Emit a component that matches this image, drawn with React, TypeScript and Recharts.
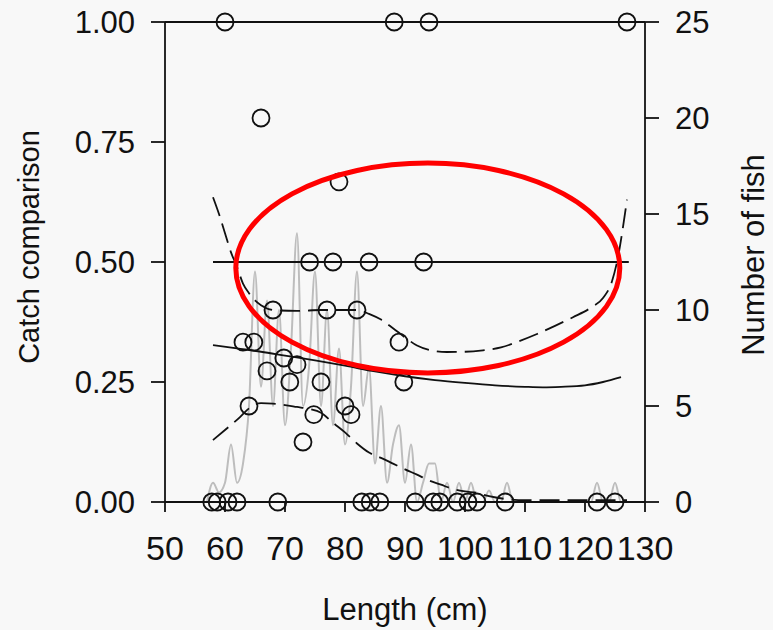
import React from 'react';
import {
  ComposedChart,
  Line,
  Scatter,
  XAxis,
  YAxis,
  ReferenceLine,
  ReferenceArea,
} from 'recharts';

// ---- axis ticks ----
const xTicks = [50, 60, 70, 80, 90, 100, 110, 120, 130];
const leftTicks = [0, 0.25, 0.5, 0.75, 1];
const rightTicks = [0, 5, 10, 15, 20, 25];

// ---- observed catch comparison points (length, proportion) ----
const pointLengths = [
  60, 88.2, 94, 127,
  66, 79,
  74.1, 78, 84, 93.1,
  68, 77, 82,
  63, 64.8, 89,
  69.8, 72, 67, 70.8, 76, 89.8,
  64, 80, 74.8, 81, 73,
  57.8, 58.7, 60.5, 62, 68.8, 82.8, 84.2, 85.8, 91.7, 94.7, 95.8, 98.7, 100.5, 102, 106.7, 122, 125,
];
const pointValues = [
  1, 1, 1, 1,
  0.8, 0.667,
  0.5, 0.5, 0.5, 0.5,
  0.4, 0.4, 0.4,
  0.333, 0.333, 0.333,
  0.3, 0.286, 0.273, 0.25, 0.25, 0.25,
  0.2, 0.2, 0.182, 0.182, 0.125,
  0, 0, 0, 0, 0, 0, 0, 0, 0, 0, 0, 0, 0, 0, 0, 0, 0,
];

// ---- number of fish per length class ----
const countLengths = [
  57, 58, 59, 60, 61, 62, 63, 64, 65, 66, 67, 68, 69, 70, 71, 72, 73, 74, 75, 76,
  77, 78, 79, 80, 81, 82, 83, 84, 85, 86, 87, 88, 89, 90, 91, 92, 93, 94, 95, 96,
  97, 98, 99, 100, 101, 102, 103, 104, 105, 106, 107, 108, 109, 110, 111, 112, 113, 114, 115, 116,
  117, 118, 119, 120, 121, 122, 123, 124, 125, 126, 127,
];
const countValues = [
  0, 1, 0.5, 1, 3, 1, 2, 5, 12, 6, 10.5, 5, 10, 4, 8, 14, 5, 7, 12, 5,
  10, 4, 8, 3, 6, 12, 5, 7, 2, 5, 1, 3, 4, 1, 3, 0, 1, 2, 2, 0,
  1, 0, 1, 0, 1, 0, 0, 0.6, 0, 0, 1, 0, 0, 0, 0, 0, 0, 0, 0, 0,
  0, 0, 0, 0, 0, 1, 0, 0, 1, 0, 0,
];

// ---- fitted curve ----
const fitLengths = [58, 62, 66, 70, 75, 80, 85, 90, 95, 100, 105, 110, 113, 116, 120, 123, 126];
const fitValues = [0.327, 0.32, 0.313, 0.305, 0.295, 0.284, 0.272, 0.262, 0.254, 0.248, 0.243, 0.24, 0.239, 0.24, 0.243, 0.25, 0.26];

// ---- upper confidence band ----
const upperLengths = [58, 59, 60, 61, 62, 63, 64, 65, 66, 68, 72, 76, 80, 82, 84, 86, 88, 90, 92, 94, 97, 100, 103, 106, 109, 112, 115, 118, 121, 123, 124.5, 125.5, 126.3, 127];
const upperValues = [0.635, 0.6, 0.56, 0.52, 0.49, 0.455, 0.435, 0.42, 0.41, 0.4, 0.398, 0.4, 0.4, 0.4, 0.392, 0.38, 0.362, 0.343, 0.326, 0.317, 0.3125, 0.313, 0.316, 0.322, 0.335, 0.35, 0.367, 0.385, 0.405, 0.425, 0.46, 0.51, 0.57, 0.63];

// ---- lower confidence band ----
const lowerLengths = [58, 60, 62.5, 64, 66, 68, 70, 72, 74, 76, 78, 80, 82, 84, 86, 88, 90, 92, 94, 96, 98, 100, 102, 104, 107, 110, 115, 120, 127];
const lowerValues = [0.129, 0.15, 0.177, 0.195, 0.206, 0.205, 0.202, 0.198, 0.194, 0.186, 0.165, 0.145, 0.122, 0.103, 0.092, 0.08, 0.068, 0.057, 0.045, 0.036, 0.027, 0.022, 0.019, 0.012, 0.006, 0.004, 0.004, 0.004, 0.004];

// ---- equal catch reference ----
const equalLengths = [58, 127.3];
const equalValues = [0.5, 0.5];

// ---- highlighted region (annotation) ----
const ellipseX = [61.8, 125.8];
const ellipseY = [0.269, 0.706];

const zip = (xs: number[], ys: number[]) => xs.map((x, i) => ({ x, y: ys[i] }));

const points = zip(pointLengths, pointValues);
const counts = zip(countLengths, countValues);
const fit = zip(fitLengths, fitValues);
const upper = zip(upperLengths, upperValues);
const lower = zip(lowerLengths, lowerValues);
const equal = zip(equalLengths, equalValues);

const FONT = '"Liberation Sans", Arial, Helvetica, sans-serif';
const tickStyleX = { fontSize: 34, fill: '#111', fontFamily: FONT };
const tickStyleY = { fontSize: 31, fill: '#111', fontFamily: FONT };

const OpenCircle = (p: any) => (
  <circle cx={p.cx} cy={p.cy} r={8.5} fill="none" stroke="#111" strokeWidth={1.8} />
);

const EllipseShape = (p: any) => (
  <ellipse
    cx={p.x + p.width / 2}
    cy={p.y + p.height / 2}
    rx={p.width / 2}
    ry={p.height / 2}
    fill="none"
    stroke="#ff0000"
    strokeWidth={5}
  />
);

export default function App() {
  return (
    <div style={{ position: 'absolute', left: 0, top: 0, width: 773, height: 630, background: '#f8f8f8' }}>
      <ComposedChart width={773} height={630} margin={{ top: 22, right: 0, bottom: 0, left: 0 }}>
        <XAxis
          type="number"
          dataKey="x"
          domain={[50, 130]}
          ticks={xTicks}
          interval={0}
          allowDataOverflow
          tickSize={10}
          tickMargin={24}
          height={128}
          axisLine={{ stroke: '#111', strokeWidth: 1.8 }}
          tickLine={{ stroke: '#111', strokeWidth: 1.8 }}
          tick={tickStyleX}
          label={{
            content: (lp: any) => {
              const vb = lp.viewBox || { x: 165, y: 502, width: 480 };
              return (
                <text
                  x={vb.x + vb.width / 2}
                  y={vb.y + 118}
                  textAnchor="middle"
                  style={{ fontSize: 31, fill: '#111', fontFamily: FONT }}
                >
                  Length (cm)
                </text>
              );
            },
          }}
        />
        <YAxis
          yAxisId="left"
          type="number"
          domain={[0, 1]}
          ticks={leftTicks}
          interval={0}
          width={165}
          tickSize={14}
          tickMargin={16}
          tickFormatter={(v: number) => v.toFixed(2)}
          axisLine={{ stroke: '#111', strokeWidth: 1.8 }}
          tickLine={{ stroke: '#111', strokeWidth: 1.8 }}
          tick={tickStyleY}
          label={{
            content: (lp: any) => {
              const vb = lp.viewBox || { x: 0, y: 22 };
              const cx = vb.x + 29;
              const cy = vb.y + 225;
              return (
                <text
                  x={cx}
                  y={cy}
                  transform={`rotate(-90 ${cx} ${cy})`}
                  textAnchor="middle"
                  dominantBaseline="central"
                  style={{ fontSize: 29, fill: '#111', fontFamily: FONT }}
                >
                  Catch comparison
                </text>
              );
            },
          }}
        />
        <YAxis
          yAxisId="right"
          orientation="right"
          type="number"
          domain={[0, 25]}
          ticks={rightTicks}
          interval={0}
          width={128}
          tickSize={14}
          tickMargin={16}
          axisLine={{ stroke: '#111', strokeWidth: 1.8 }}
          tickLine={{ stroke: '#111', strokeWidth: 1.8 }}
          tick={tickStyleY}
          label={{
            content: (lp: any) => {
              const vb = lp.viewBox || { x: 645, y: 22 };
              const cx = vb.x + 108;
              const cy = vb.y + 233;
              return (
                <text
                  x={cx}
                  y={cy}
                  transform={`rotate(-90 ${cx} ${cy})`}
                  textAnchor="middle"
                  dominantBaseline="central"
                  style={{ fontSize: 31, fill: '#111', fontFamily: FONT }}
                >
                  Number of fish
                </text>
              );
            },
          }}
        />

        <ReferenceLine yAxisId="left" y={0} stroke="#111" strokeWidth={1.8} />
        <ReferenceLine yAxisId="left" y={1} stroke="#111" strokeWidth={1.8} />

        <Line
          yAxisId="right"
          data={counts}
          dataKey="y"
          type="monotone"
          stroke="#bdbdbd"
          strokeWidth={2}
          dot={false}
          activeDot={false}
          isAnimationActive={false}
        />
        <Line
          yAxisId="left"
          data={equal}
          dataKey="y"
          type="linear"
          stroke="#111"
          strokeWidth={1.8}
          dot={false}
          activeDot={false}
          isAnimationActive={false}
        />
        <Line
          yAxisId="left"
          data={fit}
          dataKey="y"
          type="monotone"
          stroke="#111"
          strokeWidth={1.8}
          dot={false}
          activeDot={false}
          isAnimationActive={false}
        />
        <Line
          yAxisId="left"
          data={upper}
          dataKey="y"
          type="monotone"
          stroke="#111"
          strokeWidth={1.8}
          strokeDasharray="20 8"
          dot={false}
          activeDot={false}
          isAnimationActive={false}
        />
        <Line
          yAxisId="left"
          data={lower}
          dataKey="y"
          type="monotone"
          stroke="#111"
          strokeWidth={1.8}
          strokeDasharray="20 8"
          dot={false}
          activeDot={false}
          isAnimationActive={false}
        />
        <Scatter
          yAxisId="left"
          data={points}
          dataKey="y"
          shape={OpenCircle}
          isAnimationActive={false}
        />
        <ReferenceArea
          yAxisId="left"
          x1={ellipseX[0]}
          x2={ellipseX[1]}
          y1={ellipseY[0]}
          y2={ellipseY[1]}
          ifOverflow="visible"
          shape={EllipseShape}
          zIndex={2000}
        />
      </ComposedChart>
    </div>
  );
}
